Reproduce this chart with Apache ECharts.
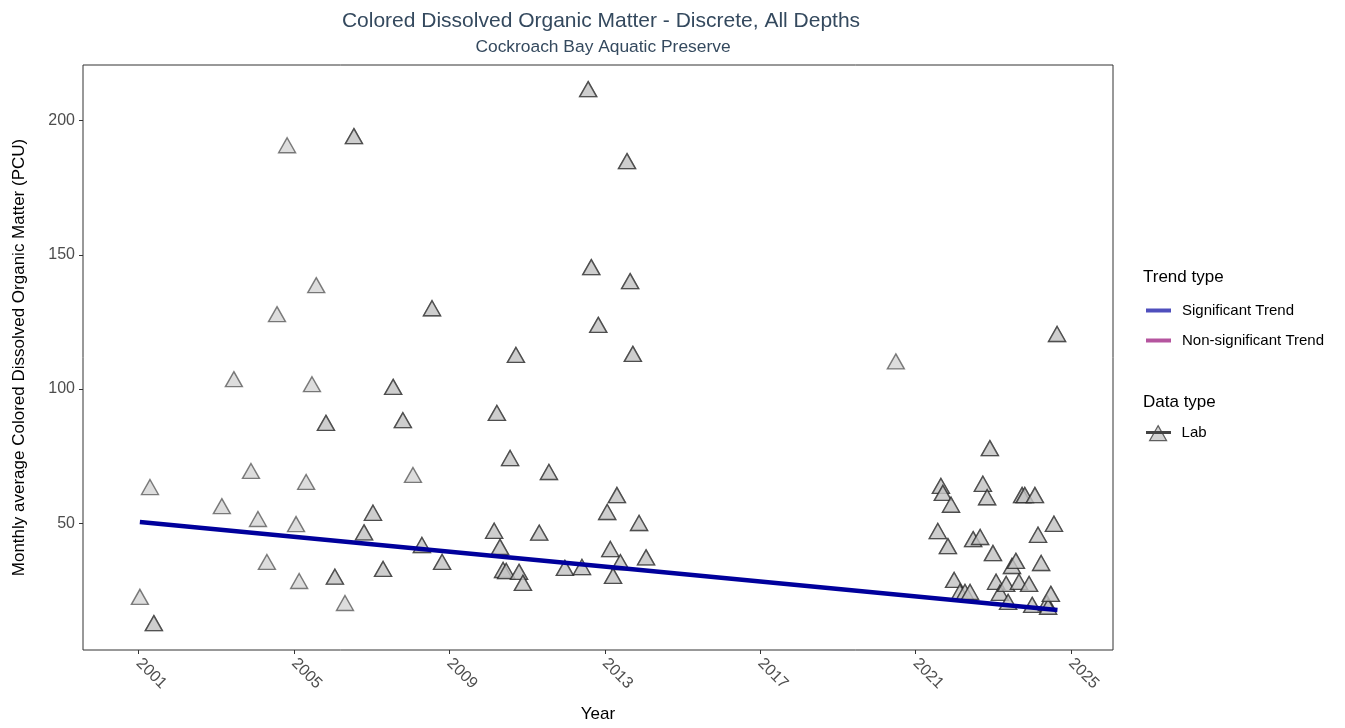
<!DOCTYPE html>
<html>
<head>
<meta charset="utf-8">
<script src="https://cdn.jsdelivr.net/npm/echarts@6/dist/echarts.min.js"></script>
<style>html,body{margin:0;padding:0;background:#fff;}#chart{width:1345px;height:728px;}</style>
</head>
<body>
<div id="chart"></div>
<script>
// ---- Data ----
const labYears = [2001.03,2001.39,2001.29,2003.14,2003.45,2003.89,2004.07,2004.30,2004.56,2004.82,
  2005.05,2005.13,2005.31,2005.46,2005.57,2005.82,2006.05,2006.31,2006.54,2006.80,
  2007.03,2007.29,2007.55,2007.80,2008.06,2008.29,2008.55,2008.81,2010.15,2010.22,
  2010.30,2010.38,2010.46,2010.56,2010.71,2010.79,2010.89,2011.31,2011.56,2011.97,
  2012.41,2012.57,2012.65,2012.83,2013.06,2013.31,2013.14,2013.40,2013.21,2013.57,
  2013.65,2013.72,2013.88,2014.06,
  2020.49,2021.57,2021.65,2021.70,2021.83,2021.91,2021.99,2022.14,2022.27,2022.40,
  2022.48,2022.66,2022.73,2022.84,2022.91,2022.99,2023.07,2023.17,2023.33,2023.38,
  2023.48,2023.58,2023.66,2023.74,2023.81,2023.92,2024.00,2024.07,2024.15,2024.23,
  2024.38,2024.41,2024.48,2024.56,2024.64];
const labValues = [22.6,12.8,63.5,56.4,103.7,69.5,51.6,35.6,127.9,190.8,
  49.7,28.5,65.4,101.8,138.7,87.4,30.1,20.3,194.2,46.6,
  53.9,33.0,100.8,88.4,68.0,41.9,130.1,35.6,47.2,91.1,
  41.2,32.6,32.2,74.3,112.7,31.9,27.8,46.5,69.1,33.4,
  33.7,211.7,145.4,123.9,54.2,60.5,40.4,35.5,30.4,184.9,
  140.2,113.1,50.1,37.3,
  110.3,47.1,63.9,61.3,41.5,56.9,28.9,24.4,24.4,24.4,
  44.1,44.9,64.7,59.7,78.0,38.9,28.2,24.1,27.4,20.7,
  34.1,36.0,28.2,60.5,60.5,27.4,19.6,60.5,45.7,35.2,
  20.3,18.9,23.7,49.8,120.5];
// number of overlapping samples at each point (darker triangles = 2)
const labCounts = [1,2,1,1,1,1,1,1,1,1,
  1,1,1,1,1,2,2,1,2,2,
  2,2,2,2,1,2,2,2,2,2,
  2,2,2,2,2,2,2,2,2,2,
  2,2,2,2,2,2,2,2,2,2,
  2,2,2,2,
  1,2,2,2,2,2,2,2,2,2,
  2,2,2,2,2,2,2,2,2,2,
  2,2,2,2,2,2,2,2,2,2,
  2,2,2,2,2];
const trendYears = [2001.03, 2024.65];
const trendValues = [50.5, 17.7];
const xTicks = [2001, 2005, 2009, 2013, 2017, 2021, 2025];
const yTicks = [50, 100, 150, 200];

// ---- Build series data ----
const labData = [];
labYears.forEach((yr, i) => {
  for (let k = 0; k < labCounts[i]; k++) labData.push([yr, labValues[i]]);
});
const trendData = trendYears.map((yr, i) => [yr, trendValues[i]]);

const FONT = "'Liberation Sans', Arial, sans-serif";
const chart = echarts.init(document.getElementById('chart'), null, {renderer: 'canvas'});
chart.setOption({
  animation: false,
  backgroundColor: '#ffffff',
  textStyle: {fontFamily: FONT},
  title: [
    {text: 'Colored Dissolved Organic Matter - Discrete, All Depths', left: 596, top: 6, textAlign: 'center',
     textStyle: {fontFamily: FONT, fontSize: 21, fontWeight: 'normal', color: '#34495E'}},
    {text: 'Cockroach Bay Aquatic Preserve', left: 598, top: 34, textAlign: 'center',
     textStyle: {fontFamily: FONT, fontSize: 17.4, fontWeight: 'normal', color: '#34495E'}},
    {text: 'Trend type', left: 1138, top: 264,
     textStyle: {fontFamily: FONT, fontSize: 17, fontWeight: 'normal', color: '#000'}},
    {text: 'Data type', left: 1138, top: 389,
     textStyle: {fontFamily: FONT, fontSize: 17, fontWeight: 'normal', color: '#000'}}
  ],
  grid: {left: 83, right: 232, top: 65, bottom: 78, show: true, borderColor: '#333333', borderWidth: 1, backgroundColor: 'transparent'},
  xAxis: {
    type: 'value', min: 1999.566, max: 2026.08,
    name: 'Year', nameLocation: 'middle', nameGap: 56,
    nameTextStyle: {fontFamily: FONT, fontSize: 17, color: '#000'},
    axisLine: {show: false},
    splitLine: {show: false},
    axisTick: {show: true, length: 4, lineStyle: {color: '#333', width: 1}, customValues: xTicks},
    axisLabel: {customValues: xTicks, rotate: -45, margin: 11, fontFamily: FONT, fontSize: 16, color: '#4d4d4d',
      formatter: v => String(v)}
  },
  yAxis: {
    type: 'value', min: 2.8, max: 220.7,
    name: 'Monthly average Colored Dissolved Organic Matter (PCU)', nameLocation: 'middle', nameGap: 55,
    nameTextStyle: {fontFamily: FONT, fontSize: 17, color: '#000'},
    axisLine: {show: false},
    splitLine: {show: false},
    axisTick: {show: true, length: 4, lineStyle: {color: '#333', width: 1}, customValues: yTicks},
    axisLabel: {customValues: yTicks, margin: 8, fontFamily: FONT, fontSize: 16, color: '#4d4d4d'}
  },
  legend: [
    {orient: 'vertical', left: 1141, top: 298, itemWidth: 25, itemHeight: 4, itemGap: 15, icon: 'rect',
     selectedMode: false,
     textStyle: {fontFamily: FONT, fontSize: 15, color: '#000', padding: [0, 0, 0, 6]},
     data: [
       {name: 'Significant Trend', itemStyle: {color: '#4f4fbd'}},
       {name: 'Non-significant Trend', itemStyle: {color: '#b5559f'}}
     ]},
    {orient: 'vertical', left: 1144, top: 420, itemWidth: 17, itemHeight: 15, selectedMode: false,
     textStyle: {fontFamily: FONT, fontSize: 15, color: '#000', padding: [0, 0, 0, 10]},
     data: [{name: 'Lab', icon: 'triangle', itemStyle: {color: '#c8c8c8', borderColor: '#3c3c3c', borderWidth: 1.2}}]}
  ],
  graphic: [
    {type: 'rect', z: 200, shape: {x: 1146, y: 431, width: 25, height: 3}, style: {fill: '#444444'}}
  ],
  series: [
    {name: 'Lab', type: 'scatter', data: labData, symbol: 'triangle', symbolSize: [17, 15], z: 2,
     itemStyle: {color: 'rgba(195,195,195,0.7)', borderColor: 'rgba(30,30,30,0.7)', borderWidth: 1.4}},
    {name: 'Significant Trend', type: 'line', data: trendData, showSymbol: false, symbol: 'none', z: 5,
     lineStyle: {color: '#00009c', width: 4.5}, itemStyle: {color: '#4f4fbd'}},
    {name: 'Non-significant Trend', type: 'line', data: [], showSymbol: false, symbol: 'none',
     lineStyle: {color: '#b5559f', width: 4.5}, itemStyle: {color: '#b5559f'}}
  ]
});
</script>
</body>
</html>
